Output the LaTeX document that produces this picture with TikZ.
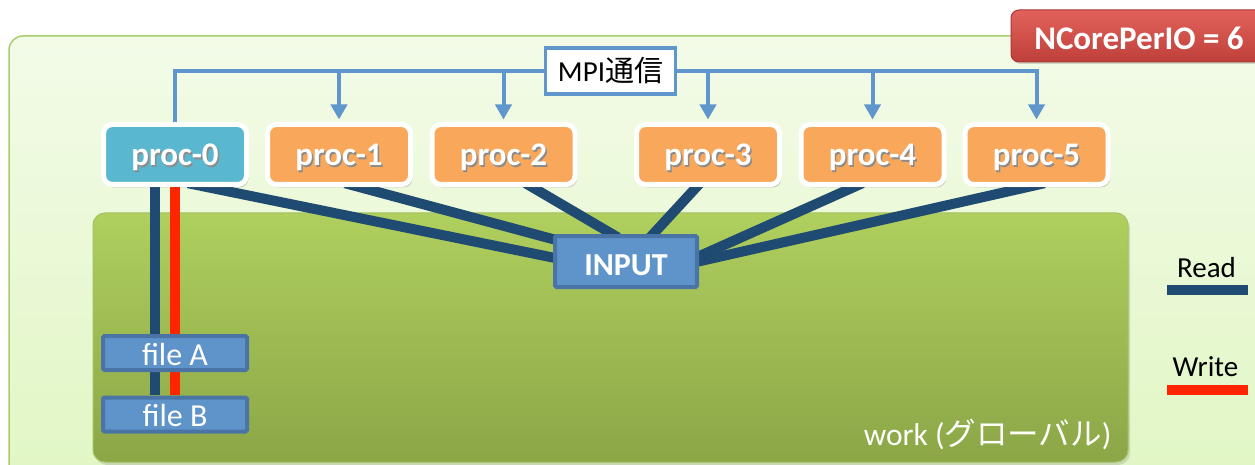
\documentclass[tikz,border=0pt]{standalone}
\usepackage{fontspec}
\setmainfont{Carlito}
\newfontfamily\jp{Noto Sans CJK JP}
\usetikzlibrary{arrows.meta,shadows,calc}

\definecolor{panelTop}{HTML}{F3FBE8}
\definecolor{panelBot}{HTML}{E0F6C2}
\definecolor{panelEdge}{HTML}{A9CC6C}
\definecolor{workTop}{HTML}{AFCF5E}
\definecolor{workBot}{HTML}{8CA647}
\definecolor{workEdge}{HTML}{A3C261}
\definecolor{busBlue}{HTML}{5F96CC}
\definecolor{readBlue}{HTML}{1F4A72}
\definecolor{writeRed}{HTML}{FF2500}
\definecolor{procOrange}{HTML}{F9A75A}
\definecolor{procCyan}{HTML}{5AB7D0}
\definecolor{fileFill}{HTML}{5E94CA}
\definecolor{fileEdge}{HTML}{4A74A5}
\definecolor{badgeTop}{HTML}{E2625B}
\definecolor{badgeBot}{HTML}{BF3F3A}
\definecolor{badgeEdge}{HTML}{A93733}

% white label text with a soft dark shadow behind it
\newcommand{\shtxt}[1]{\makebox[0pt][l]{\hspace{1.5pt}\raisebox{-1.8pt}{\color{black!45}#1}}#1}

\tikzset{
  procbox/.style={draw=white, line width=5pt, rounded corners=9pt,
    minimum width=143pt, minimum height=60pt, inner sep=0pt, text=white,
    text height=25pt, text depth=2pt,
    font=\fontsize{33}{38}\selectfont\bfseries,
    drop shadow={shadow xshift=2pt, shadow yshift=-3pt, opacity=.35}},
  filebox/.style={draw=fileEdge, fill=fileFill, line width=4pt, rounded corners=1.5pt,
    minimum width=144pt, minimum height=34pt, inner sep=0pt, text=white,
    text height=24pt, text depth=0pt,
    font=\fontsize{32}{36}\selectfont},
  bus/.style={draw=busBlue, line width=4pt},
  busarrow/.style={bus, -{Triangle[width=16pt,length=15pt]}, shorten >=2.5pt},
  readline/.style={draw=readBlue, line width=10pt},
  writeline/.style={draw=writeRed, line width=10pt},
  legendtext/.style={font=\fontsize{29}{34}\selectfont, text=black, inner sep=0pt},
}

\begin{document}
\begin{tikzpicture}[x=1pt, y=-1pt]
\useasboundingbox (0,0) rectangle (1255,465);
\clip (0,0) rectangle (1255,465);
\fill[white] (0,0) rectangle (1255,465);

% outer panel
\path[draw=panelEdge, line width=1.5pt, top color=panelTop, bottom color=panelBot,
      rounded corners=14pt] (9,36) rectangle (1290,500);

% shared work storage
\node[draw=workEdge, line width=1pt, top color=workTop, bottom color=workBot,
      rounded corners=12pt, minimum width=1035pt, minimum height=249pt, inner sep=0pt,
      drop shadow={shadow xshift=2pt, shadow yshift=-3pt, opacity=.25}]
      (work) at (610.5,337.5) {};
\node[anchor=south east, inner sep=0pt, text=white, font=\fontsize{31.5}{36}\selectfont]
      (worklbl) at ($(work.south east)+(-17,-12)$) {work ({\jp グローバル})};

% node geometry: processes, input, files (outlines only, so connectors can go beneath)
\path
  (175,154.5)    node[minimum width=148pt, minimum height=65pt] (p0) {}
  (339,154.5)    node[minimum width=148pt, minimum height=65pt] (p1) {}
  (503.5,154.5)  node[minimum width=148pt, minimum height=65pt] (p2) {}
  (708,154.5)    node[minimum width=148pt, minimum height=65pt] (p3) {}
  (872.5,154.5)  node[minimum width=148pt, minimum height=65pt] (p4) {}
  (1036.5,154.5) node[minimum width=148pt, minimum height=65pt] (p5) {}
  (626,261.5)    node[minimum width=146pt, minimum height=55pt] (in) {}
  (175,353)      node[minimum width=148pt, minimum height=38pt] (fa) {}
  (175,414.5)    node[minimum width=148pt, minimum height=38pt] (fb) {};

% read / write paths of proc-0 to its own files
\draw[readline]  ([xshift=-20pt]p0.south) -- ([xshift=-20pt]fb.north);
\draw[writeline] (p0.south) -- (fb.north);

% every process reads the shared input
\draw[readline] ($(p0.south)+(13,-4)$) -- ($(in.center)+(-66,-2.5)$);
\draw[readline] ($(p1.south)+(6,-4)$)  -- ($(in.center)+(-68,-21)$);
\draw[readline] ($(p2.south)+(22,-4)$) -- ($(in.center)+(-8,-24)$);
\draw[readline] ($(p3.south)+(-8,-4)$) -- ($(in.center)+(24,-24)$);
\draw[readline] ($(p4.south)+(-10,-4)$) -- ($(in.center)+(68,-3)$);
\draw[readline] ($(p5.south)+(8,-4)$)  -- ($(in.center)+(68,1)$);

% files and input boxes
\node[filebox] (fabox) at (fa.center) {file A};
\node[filebox] (fbbox) at (fb.center) {file B};
\node[draw=fileEdge, fill=fileFill, line width=4pt, rounded corners=1.5pt,
      minimum width=142pt, minimum height=51pt, inner sep=0pt, text=white,
      text height=27pt, text depth=0pt,
      font=\fontsize{32}{36}\selectfont\bfseries] (inbox) at (in.center) {INPUT};

% processes
\node[procbox, fill=procCyan]   (b0) at (p0.center) {\shtxt{proc-0}};
\node[procbox, fill=procOrange] (b1) at (p1.center) {\shtxt{proc-1}};
\node[procbox, fill=procOrange] (b2) at (p2.center) {\shtxt{proc-2}};
\node[procbox, fill=procOrange] (b3) at (p3.center) {\shtxt{proc-3}};
\node[procbox, fill=procOrange] (b4) at (p4.center) {\shtxt{proc-4}};
\node[procbox, fill=procOrange] (b5) at (p5.center) {\shtxt{proc-5}};

% MPI communication bus
\node[draw=busBlue, line width=3.5pt, fill=white, minimum width=130pt,
      minimum height=46pt, inner sep=0pt, text height=22pt, text depth=0pt,
      font=\fontsize{29}{34}\selectfont]
      (mpi) at (610.5,71) {MPI{\jp 通信}};
\draw[bus] (b0.north) |- (mpi.west);
\draw[busarrow] (mpi.east) -| (b5.north);
\draw[busarrow] (b1.north |- mpi.west) -- (b1.north);
\draw[busarrow] (b2.north |- mpi.west) -- (b2.north);
\draw[busarrow] (b3.north |- mpi.east) -- (b3.north);
\draw[busarrow] (b4.north |- mpi.east) -- (b4.north);

% setting badge
\node[draw=badgeEdge, line width=1pt, top color=badgeTop, bottom color=badgeBot,
      rounded corners=8pt, minimum width=256pt, minimum height=52pt, inner sep=0pt,
      text=white, text height=28pt, text depth=0pt,
      font=\fontsize{33}{38}\selectfont\bfseries,
      drop shadow={shadow xshift=1.5pt, shadow yshift=-2pt, opacity=.3}]
      (badge) at (1139,36) {NCorePerIO = 6};

% legend
\node[fill=readBlue, minimum width=81pt, minimum height=10pt, inner sep=0pt]
      (readbar) at (1207.5,290) {};
\node[legendtext, anchor=south] (readlbl) at ($(readbar.north)+(-1,-7)$) {Read};
\node[fill=writeRed, minimum width=81pt, minimum height=10pt, inner sep=0pt]
      (writebar) at (1207.5,389.5) {};
\node[legendtext, anchor=south] (writelbl) at ($(writebar.north)+(-2,-7)$) {Write};
\end{tikzpicture}
\end{document}
